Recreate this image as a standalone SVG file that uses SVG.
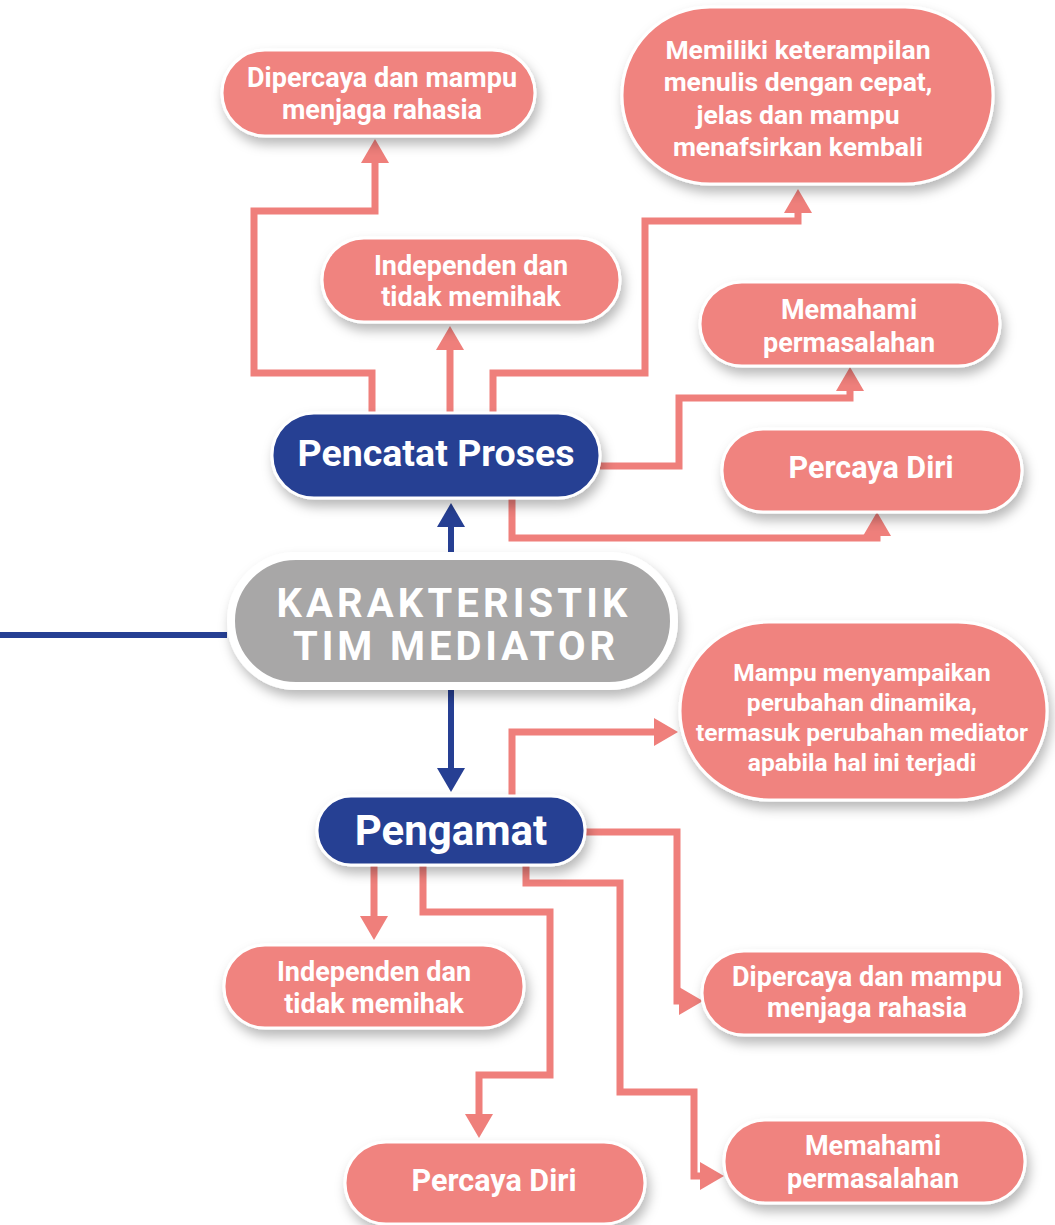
<svg xmlns="http://www.w3.org/2000/svg" width="1055" height="1225" viewBox="0 0 1055 1225">
<defs>
<style>
.pk{fill:#f0837f;stroke:#ffffff;stroke-width:3;filter:url(#sh)}
.bl{fill:#263f93;stroke:#ffffff;stroke-width:3;filter:url(#sh)}
.gr{fill:#a8a7a7;stroke:#ffffff;stroke-width:8;filter:url(#sh)}
.t{font-family:Roboto,"Liberation Sans",sans-serif;font-weight:700;fill:#ffffff;text-anchor:middle}
.cp{fill:none;stroke:#ef7f7b;stroke-width:7;stroke-linejoin:miter;marker-end:url(#ap)}
.cb{fill:none;stroke:#263f93;stroke-width:6;marker-end:url(#ab)}
</style>
<filter id="sh" x="-20%" y="-20%" width="140%" height="160%">
<feDropShadow dx="3" dy="7" stdDeviation="6" flood-color="#000" flood-opacity="0.28"/>
</filter>
<marker id="ap" viewBox="0 0 24 28" refX="0" refY="14" markerWidth="24" markerHeight="28" markerUnits="userSpaceOnUse" orient="auto">
<path d="M0,0 L24,14 L0,28 Z" fill="#ef7f7b"/>
</marker>
<marker id="ab" viewBox="0 0 24 28" refX="0" refY="14" markerWidth="24" markerHeight="28" markerUnits="userSpaceOnUse" orient="auto">
<path d="M0,0 L24,14 L0,28 Z" fill="#263f93"/>
</marker>
</defs>
<rect width="1055" height="1225" fill="#ffffff"/>

<g id="connectors">
<path class="cp" d="M372,413 V373 H254 V211 H375 V163"/>
<path class="cp" d="M450,413 V350"/>
<path class="cp" d="M493,413 V373 H645 V221 H798 V213"/>
<path class="cp" d="M600,466 H679 V398 H850 V391"/>
<path class="cp" d="M512,498 V538 H877 V536"/>
<path class="cb" d="M451,552 V527"/>
<path class="cb" d="M451,690 V768"/>
<path class="cp" d="M512,796 V732 H654"/>
<path class="cp" d="M585,832 H677 V1001 H679"/>
<path class="cp" d="M374,865 V916"/>
<path class="cp" d="M423,865 V912 H550 V1075 H479 V1114"/>
<path class="cp" d="M526,865 V883 H620 V1092 H694 V1176 H700"/>
<path d="M0,635 H227" fill="none" stroke="#263f93" stroke-width="6"/>
</g>

<g id="n_dipercaya_top">
<rect class="pk" x="222" y="50" width="313" height="86" rx="43"/>
<text class="t" x="382" y="87" font-size="27">Dipercaya dan mampu</text>
<text class="t" x="382" y="119" font-size="27">menjaga rahasia</text>
</g>
<g id="n_independen_top">
<rect class="pk" x="322" y="238" width="298" height="84" rx="42"/>
<text class="t" x="471" y="275" font-size="27">Independen dan</text>
<text class="t" x="471" y="306" font-size="27">tidak memihak</text>
</g>
<g id="n_memiliki">
<rect class="pk" x="622" y="7" width="371" height="177" rx="88"/>
<text class="t" x="798" y="59" font-size="26.5">Memiliki keterampilan</text>
<text class="t" x="798" y="91" font-size="26.5">menulis dengan cepat,</text>
<text class="t" x="798" y="124" font-size="26.5">jelas dan mampu</text>
<text class="t" x="798" y="156" font-size="26.5">menafsirkan kembali</text>
</g>
<g id="n_memahami_top">
<rect class="pk" x="700" y="282" width="300" height="84" rx="42"/>
<text class="t" x="849" y="319" font-size="27">Memahami</text>
<text class="t" x="849" y="352" font-size="27">permasalahan</text>
</g>
<g id="n_percaya_top">
<rect class="pk" x="722" y="429" width="300" height="83" rx="41"/>
<text class="t" x="871" y="478" font-size="30.5">Percaya Diri</text>
</g>
<g id="n_pencatat">
<rect class="bl" x="272" y="413" width="328" height="85" rx="42"/>
<text class="t" x="436" y="466" font-size="37.5">Pencatat Proses</text>
</g>
<g id="n_karakteristik">
<rect class="gr" x="231" y="556" width="443" height="130" rx="65"/>
<text class="t" x="452" y="617" font-size="40" font-weight="600" textLength="351" lengthAdjust="spacing">KARAKTERISTIK</text>
<text class="t" x="454" y="660" font-size="40" font-weight="600" textLength="322" lengthAdjust="spacing">TIM MEDIATOR</text>
</g>
<g id="n_pengamat">
<rect class="bl" x="317" y="796" width="268" height="69" rx="34"/>
<text class="t" x="451" y="845" font-size="42">Pengamat</text>
</g>
<g id="n_mampu">
<rect class="pk" x="680" y="622" width="367" height="178" rx="89"/>
<text class="t" x="862" y="681" font-size="24.5">Mampu menyampaikan</text>
<text class="t" x="862" y="711" font-size="24.5">perubahan dinamika,</text>
<text class="t" x="862" y="741" font-size="24.5">termasuk perubahan mediator</text>
<text class="t" x="862" y="771" font-size="24.5">apabila hal ini terjadi</text>
</g>
<g id="n_independen_bot">
<rect class="pk" x="224" y="945" width="300" height="83" rx="41"/>
<text class="t" x="374" y="981" font-size="27">Independen dan</text>
<text class="t" x="374" y="1013" font-size="27">tidak memihak</text>
</g>
<g id="n_percaya_bot">
<rect class="pk" x="345" y="1142" width="300" height="82" rx="41"/>
<text class="t" x="494" y="1191" font-size="30.5">Percaya Diri</text>
</g>
<g id="n_dipercaya_bot">
<rect class="pk" x="702" y="951" width="319" height="84" rx="42"/>
<text class="t" x="867" y="986" font-size="27">Dipercaya dan mampu</text>
<text class="t" x="867" y="1017" font-size="27">menjaga rahasia</text>
</g>
<g id="n_memahami_bot">
<rect class="pk" x="724" y="1120" width="301" height="83" rx="41"/>
<text class="t" x="873" y="1155" font-size="27">Memahami</text>
<text class="t" x="873" y="1188" font-size="27">permasalahan</text>
</g>
</svg>
